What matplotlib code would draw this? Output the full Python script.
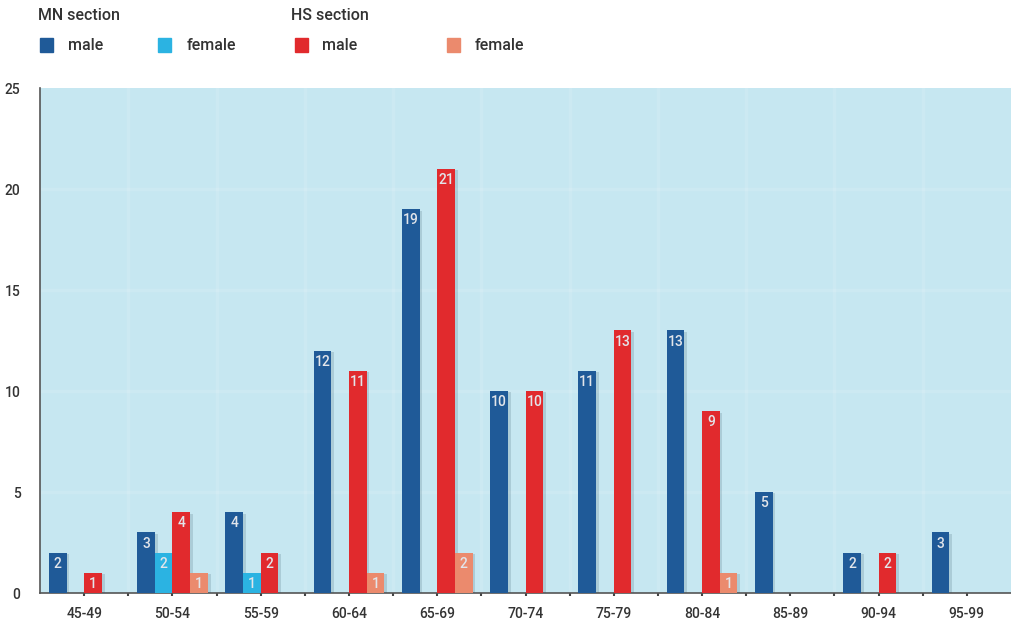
import numpy as np
import matplotlib
matplotlib.use("Agg")
import matplotlib.pyplot as plt
from matplotlib import patheffects
from matplotlib.patches import Rectangle

plt.rcParams['font.family'] = ['Roboto', 'DejaVu Sans']

age_groups = ["45-49", "50-54", "55-59", "60-64", "65-69", "70-74",
              "75-79", "80-84", "85-89", "90-94", "95-99"]
mn_male = [2, 3, 4, 12, 19, 10, 11, 13, 5, 2, 3]
mn_female = [0, 2, 1, 0, 0, 0, 0, 0, 0, 0, 0]
hs_male = [1, 4, 2, 11, 21, 10, 13, 9, 0, 2, 0]
hs_female = [0, 1, 0, 1, 2, 0, 0, 1, 0, 0, 0]

series = [
    (mn_male, "#1f5a98", -0.3),
    (mn_female, "#2bb3e2", -0.1),
    (hs_male, "#e12a2d", 0.1),
    (hs_female, "#eb8a6d", 0.3),
]

fig = plt.figure(figsize=(10.11, 6.27), dpi=100)
ax = fig.add_axes([0.0396, 0.0542, 0.9604, 0.8054])
ax.set_facecolor("#c6e7f1")

x = np.arange(len(age_groups))
shadow = [patheffects.SimplePatchShadow(offset=(2, -1), shadow_rgbFace="#335566", alpha=0.18),
          patheffects.Normal()]

for values, color, off in series:
    vals = np.array(values, dtype=float)
    bars = ax.bar(x + off, vals, width=0.2, color=color, zorder=3)
    for b, v in zip(bars, vals):
        if v == 0:
            b.set_visible(False)
            continue
        b.set_path_effects(shadow)
        ax.annotate(f"{int(v)}", (b.get_x() + b.get_width() / 2, v),
                    xytext=(0, -3), textcoords="offset points",
                    ha="center", va="top", fontsize=10, fontweight="medium",
                    color="#e2e5ea", zorder=4)

# very faint grid
for yv in [5, 10, 15, 20]:
    ax.axhline(yv, color="white", lw=2.5, alpha=0.12, zorder=1)
for xv in x[:-1] + 0.5:
    ax.axvline(xv, color="white", lw=2.5, alpha=0.12, zorder=1)

ax.set_xlim(-0.5, len(age_groups) - 0.5)
ax.set_ylim(0, 25)
ax.set_yticks([0, 5, 10, 15, 20, 25])
ax.set_xticks(x)
ax.set_xticklabels(age_groups, fontweight="medium")
ax.set_yticklabels([0, 5, 10, 15, 20, 25], fontweight="medium")
ax.set_xticks(x[:-1] + 0.5, minor=True)

for s in ["top", "right"]:
    ax.spines[s].set_visible(False)
for s in ["left", "bottom"]:
    ax.spines[s].set_color("#555555")
    ax.spines[s].set_linewidth(1.2)

ax.tick_params(axis="x", which="both", length=2, width=1.5, color="#444444",
               labelsize=10, labelcolor="#333333", pad=8)
ax.tick_params(axis="y", length=0, labelsize=10, labelcolor="#333333", pad=14)

# legend drawn as figure text and squares
def fx(px):
    return px / 1011

def fy(py):
    return 1 - py / 627

txt = dict(fontsize=11.5, fontweight="medium", color="#333333", va="center", ha="left")
fig.text(fx(38), fy(16), "MN section", **txt)
fig.text(fx(291), fy(16), "HS section", **txt)
items = [(40, "#1f5a98", 68, "male"), (158, "#2bb3e2", 187, "female"),
         (295, "#e12a2d", 322, "male"), (447, "#eb8a6d", 475, "female")]
for sx, col, tx, label in items:
    fig.patches.append(Rectangle((fx(sx), fy(52)), 13 / 1011, 14 / 627,
                                 transform=fig.transFigure, color=col))
    fig.text(fx(tx), fy(45), label, **txt)

fig.savefig("out.png", dpi=100)
